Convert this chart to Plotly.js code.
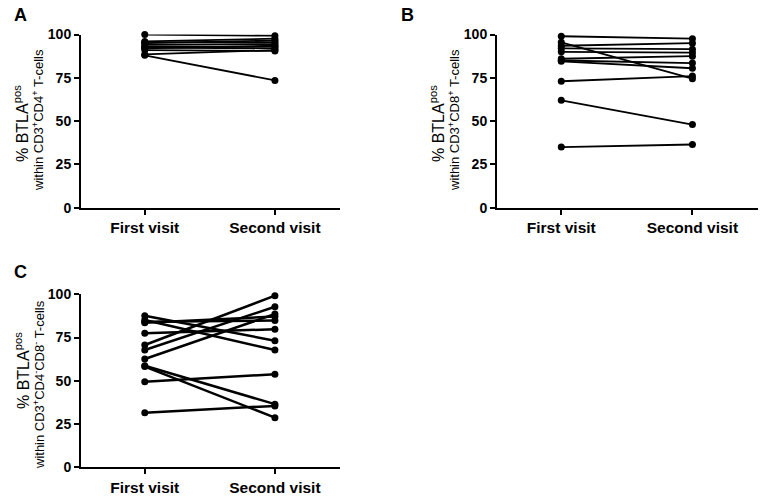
<!DOCTYPE html>
<html>
<head>
<meta charset="utf-8">
<script src="https://cdn.plot.ly/plotly-3.0.1.min.js"></script>
<style>html,body{margin:0;padding:0;background:#fff;}#chart{width:765px;height:504px;}</style>
</head>
<body>
<div id="chart"></div>
<script>
var categories = ["First visit", "Second visit"];
var yTicks = [0, 25, 50, 75, 100];

// Panel A: % BTLA pos within CD3+CD4+ T-cells
var aFirst  = [100, 96, 95.5, 95, 94, 93, 92.5, 92, 91, 88.5, 88];
var aSecond = [99.3, 97.6, 95.5, 96.5, 94.5, 93, 92, 93.5, 90.5, 91, 73.5];

// Panel B: % BTLA pos within CD3+CD8+ T-cells
var bFirst  = [99, 95.5, 93.5, 92, 90, 86, 85, 84.5, 73, 62, 35];
var bSecond = [97.6, 74.5, 95, 91.5, 89.5, 87.5, 83.5, 80.5, 76, 48, 36.5];

// Panel C: % BTLA pos within CD3+CD4-CD8- T-cells
var cFirst  = [87.6, 85.1, 84.2, 83.5, 77.5, 70.7, 67.8, 62.6, 58.7, 58.2, 49.5, 31.6];
var cSecond = [73.2, 67.8, 84.8, 87.1, 79.8, 99.2, 92.8, 88.6, 36.5, 28.7, 53.8, 35.5];

function pairTrace(first, second, xa, ya, lw) {
  var xs = [], ys = [];
  for (var i = 0; i < first.length; i++) {
    xs.push(categories[0], categories[1], null);
    ys.push(first[i], second[i], null);
  }
  return {
    type: "scatter", mode: "lines+markers", x: xs, y: ys,
    xaxis: xa, yaxis: ya, connectgaps: false, cliponaxis: false,
    line: {color: "#000", width: lw},
    marker: {color: "#000", size: 7},
    hoverinfo: "skip", showlegend: false
  };
}

var data = [
  pairTrace(aFirst, aSecond, "x", "y", 1.8),
  pairTrace(bFirst, bSecond, "x2", "y2", 1.8),
  pairTrace(cFirst, cSecond, "x3", "y3", 2.5)
];

var fontFam = "Arial, 'Liberation Sans', sans-serif";

function xAxis(dom, anchor) {
  return {
    domain: dom, anchor: anchor, type: "category",
    categoryorder: "array", categoryarray: categories,
    range: [-0.49, 1.5], showline: true, linecolor: "#000", linewidth: 2,
    ticks: "outside", ticklen: 5, tickwidth: 2, tickcolor: "#000",
    showgrid: false, zeroline: false, fixedrange: true,
    tickfont: {family: fontFam, size: 15.5, color: "#000", weight: "bold"}
  };
}
function yAxis(dom, anchor) {
  return {
    domain: dom, anchor: anchor, range: [0, 100],
    tickvals: yTicks, ticktext: yTicks.map(String),
    showline: true, linecolor: "#000", linewidth: 2,
    ticks: "outside", ticklen: 5, tickwidth: 2, tickcolor: "#000",
    showgrid: false, zeroline: false, fixedrange: true,
    tickfont: {family: fontFam, size: 14, color: "#000", weight: "bold"}
  };
}

var W = 765, H = 504;
function px(x) { return x / W; }
function py(y) { return 1 - y / H; }

var topDom = [py(207.7), py(34.5)];
var botDom = [py(467.3), py(294.3)];
var leftDom = [px(81), px(340)];
var rightDom = [px(497), px(758)];

function letter(t, x, y) {
  return {text: t, xref: "paper", yref: "paper", x: px(x), y: py(y),
    xanchor: "left", yanchor: "middle", showarrow: false,
    font: {family: fontFam, size: 18, color: "#000", weight: "bold"}};
}
function ytitle(t, x, y, size) {
  return {text: t, xref: "paper", yref: "paper", x: px(x), y: py(y),
    xanchor: "center", yanchor: "middle", showarrow: false, textangle: -90,
    font: {family: fontFam, size: size, color: "#000"}};
}

var layout = {
  width: W, height: H,
  margin: {l: 0, r: 0, t: 0, b: 0},
  paper_bgcolor: "#fff", plot_bgcolor: "#fff",
  font: {family: fontFam, color: "#000"},
  xaxis: xAxis(leftDom, "y"), yaxis: yAxis(topDom, "x"),
  xaxis2: xAxis(rightDom, "y2"), yaxis2: yAxis(topDom, "x2"),
  xaxis3: xAxis(leftDom, "y3"), yaxis3: yAxis(botDom, "x3"),
  annotations: [
    letter("A", 12, 15), letter("B", 399, 15), letter("C", 12, 272),
    ytitle("% BTLA<sup>pos</sup>", 21, 124, 16),
    ytitle("within CD3<sup>+</sup>CD4<sup>+</sup> T-cells", 38, 120, 13),
    ytitle("% BTLA<sup>pos</sup>", 437, 124, 16),
    ytitle("within CD3<sup>+</sup>CD8<sup>+</sup> T-cells", 454, 120, 13),
    ytitle("% BTLA<sup>pos</sup>", 22, 371, 16),
    ytitle("within CD3<sup>+</sup>CD4<sup>-</sup>CD8<sup>-</sup> T-cells", 39, 385, 13)
  ]
};

Plotly.newPlot("chart", data, layout, {displayModeBar: false, staticPlot: true});
</script>
</body>
</html>
